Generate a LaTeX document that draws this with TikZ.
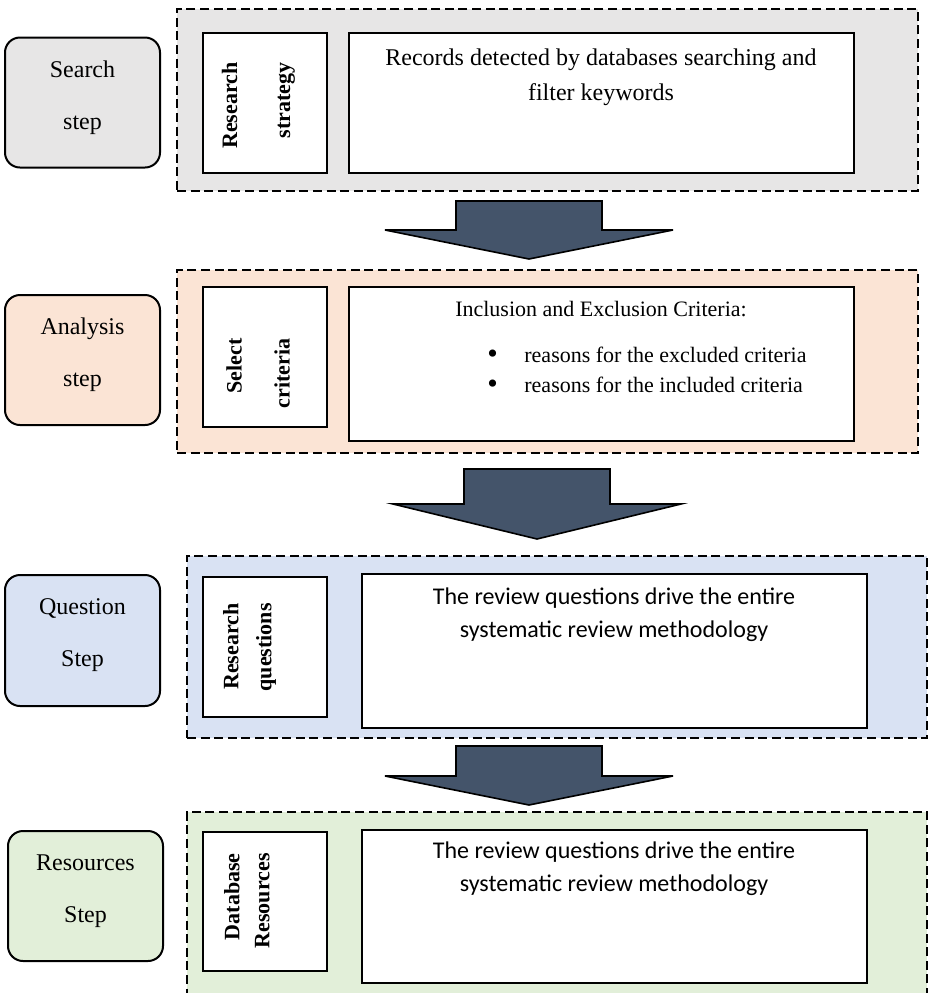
\documentclass[tikz,border=0pt]{standalone}
\usepackage{fontspec}
\setmainfont{Liberation Serif}
\newfontfamily\calibri{Carlito}
\definecolor{searchgray}{HTML}{E7E6E6}
\definecolor{analysisorange}{HTML}{FBE4D5}
\definecolor{questionblue}{HTML}{D9E2F3}
\definecolor{resourcegreen}{HTML}{E2EFD9}
\definecolor{arrowblue}{HTML}{44546A}
\newcommand{\bigbullet}{\makebox[18.5pt][l]{\raisebox{-0.4pt}{\fontsize{15}{15}\selectfont\textbullet}}}

\begin{document}
\begin{tikzpicture}[x=0.5pt,y=-0.5pt,
    panel/.style={draw,dash pattern=on 4.5pt off 2.3pt,line width=0.6pt,minimum width=370.5pt,minimum height=91pt,inner sep=0},
    stepbox/.style={draw,rounded corners=7.5pt,line width=1pt,minimum width=77.5pt,minimum height=65pt,align=center,text depth=7.6pt,font=\fontsize{12}{26}\selectfont},
    tagbox/.style={draw,fill=white,line width=0.6pt,minimum width=62pt,minimum height=70pt,inner sep=0},
    infobox/.style={draw,fill=white,line width=0.6pt,minimum width=252.5pt,minimum height=77pt,inner sep=0},
    tag/.style={rotate=90,anchor=east,align=right,inner sep=0},
    blockarrow/.style={draw,fill=arrowblue,line width=0.8pt,line join=miter}]
    \useasboundingbox (0,0) rectangle (928,993);
    \clip (0,0) rectangle (928,993);

    \node (P1) at (547.5,100) [panel,fill=searchgray]{};
    \node (P2) at (547.5,361.5) [panel,fill=analysisorange,minimum height=91.5pt]{};
    \node (P3) at (557,647) [panel,fill=questionblue,minimum width=370pt]{};
    \node (P4) at (557,908.5) [panel,fill=resourcegreen,minimum width=370pt,minimum height=96.5pt]{};

    \node (S1) at (82.5,102.5) [stepbox,fill=searchgray]{Search\\step};
    \node (S2) at (82.5,360) [stepbox,fill=analysisorange]{Analysis\\step};
    \node (S3) at (82.5,640.5) [stepbox,fill=questionblue,minimum height=65.5pt]{Question\\Step};
    \node (S4) at (85.5,896) [stepbox,fill=resourcegreen]{Resources\\Step};

    \node (K1) at (265,103) [tagbox]{};
    \node (K2) at (265,357) [tagbox]{};
    \node (K3) at (265,647) [tagbox]{};
    \node (K4) at (265,901.5) [tagbox,minimum height=69.5pt]{};

    \node (L1) at (258.5,62) [tag,font=\bfseries\fontsize{11}{26.5}\selectfont]{Research\\strategy};
    \node (L2) at (258,338) [tag,font=\bfseries\fontsize{11}{24}\selectfont]{Select\\criteria};
    \node (L3) at (249.5,603) [tag,font=\bfseries\fontsize{11}{16.5}\selectfont]{Research\\questions};
    \node (L4) at (247,853) [tag,font=\bfseries\fontsize{11}{15}\selectfont]{Database\\Resources};

    \node (B1) at (601.5,103) [infobox,minimum height=70pt]{};
    \node (B2) at (601.5,364) [infobox]{};
    \node (B3) at (614.5,651) [infobox]{};
    \node (B4) at (614.5,906.5) [infobox,minimum height=76.5pt]{};

    \node (T1) at (601,77.5) [align=center,font=\fontsize{12}{17.5}\selectfont]{Records detected by databases searching and\\filter keywords};
    \node (T2) at (601,309) [font=\fontsize{11}{15}\selectfont]{Inclusion and Exclusion Criteria:};
    \node (T2b) at (487,370) [anchor=west,align=left,inner sep=0,font=\fontsize{11}{15}\selectfont]{\bigbullet reasons for the excluded criteria\\\bigbullet reasons for the included criteria};
    \node (T3) at (614,615) [align=center,font=\calibri\fontsize{12}{16.5}\selectfont]{The review questions drive the entire\\systematic review methodology};
    \node (T4) at (614,869) [align=center,font=\calibri\fontsize{12}{16.5}\selectfont]{The review questions drive the entire\\systematic review methodology};

    \coordinate (A1) at (529,201);
    \coordinate (A2) at (537,469);
    \coordinate (A3) at (529,746);
    \draw [blockarrow] (A1) ++(-73,0) -- ++(146,0) -- ++(0,29) -- ++(71,0) -- ++(-144,29) -- ++(-144,-29) -- ++(71,0) -- cycle;
    \draw [blockarrow] (A2) ++(-73,0) -- ++(146,0) -- ++(0,35) -- ++(71,0) -- ++(-144,35) -- ++(-144,-35) -- ++(71,0) -- cycle;
    \draw [blockarrow] (A3) ++(-73,0) -- ++(146,0) -- ++(0,30) -- ++(71,0) -- ++(-144,29) -- ++(-144,-29) -- ++(71,0) -- cycle;
\end{tikzpicture}
\end{document}
